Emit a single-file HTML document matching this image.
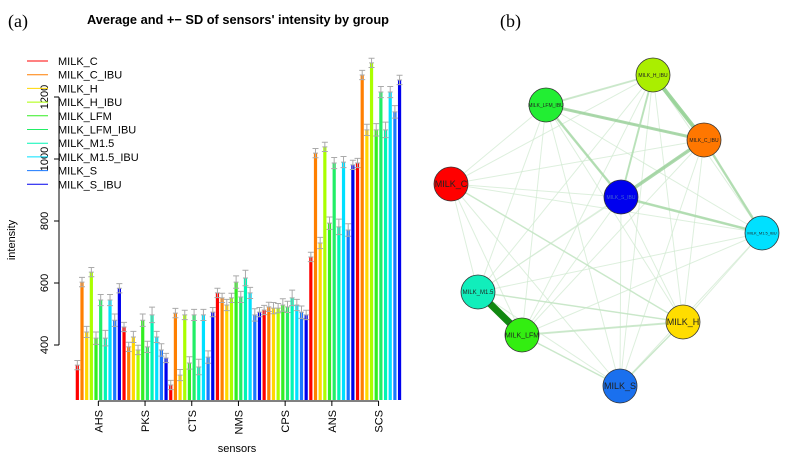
<!DOCTYPE html>
<html><head><meta charset="utf-8"><style>
body{margin:0;background:#fff;width:787px;height:458px;overflow:hidden;font-family:"Liberation Sans",sans-serif}
</style></head><body>
<svg id="chart" width="787" height="458" xmlns="http://www.w3.org/2000/svg">
<text x="8" y="27" font-family="Liberation Serif" font-size="18">(a)</text>
<text x="500" y="27" font-family="Liberation Serif" font-size="18">(b)</text>
<text x="238" y="24" text-anchor="middle" font-size="12.8" font-weight="bold">Average and +− SD of sensors' intensity by group</text>
<text transform="translate(15,240) rotate(-90)" text-anchor="middle" font-size="11">intensity</text>
<text x="237" y="452" text-anchor="middle" font-size="11">sensors</text>
<g id="bars"></g><g id="axes"></g><g id="legend"></g>
<g id="edges"></g><g id="nodes"></g>
</svg>
<script>
const groups=["MILK_C","MILK_C_IBU","MILK_H","MILK_H_IBU","MILK_LFM","MILK_LFM_IBU","MILK_M1.5","MILK_M1.5_IBU","MILK_S","MILK_S_IBU"];
const colors=["#ff0000","#ff7f00","#ffd700","#aaff00","#33ee22","#22ee66","#00f5b5","#00e0ff","#1a78ff","#0000ee"];
const sensors=["AHS","PKS","CTS","NMS","CPS","ANS","SCS"];
const yTicks=[400,600,800,1000,1200];
const AHS=[335,603,442,635,422,545,422,545,480,583];
const PKS=[458,394,426,384,480,394,497,426,384,358];
const CTS=[271,503,303,497,342,497,329,497,361,506];
const NMS=[568,552,529,552,603,555,616,568,497,506];
const CPS=[513,523,519,519,529,523,552,529,506,497];
const ANS=[684,1019,729,1039,793,987,781,990,771,981];
const SCS=[987,1271,1094,1310,1094,1216,1094,1216,1152,1255];
const SD=[15,15,18,15,20,18,25,18,20,15];
const values=[AHS,PKS,CTS,NMS,CPS,ANS,SCS];
const NS="http://www.w3.org/2000/svg";
function mk(tag,at,parent){const e=document.createElementNS(NS,tag);for(const k in at)e.setAttribute(k,at[k]);document.getElementById(parent).appendChild(e);return e;}
const y=v=>345-(v-400)*0.31;
const yBase=400, x0=75, pitch=4.67;
const x=(g,i)=>x0+(g*10+i)*pitch+pitch/2;
values.forEach((arr,g)=>arr.forEach((v,i)=>{
  const cx=x(g,i);
  let b=mk('rect',{x:cx-1.6,y:y(v),width:3.2,height:yBase-y(v),fill:colors[i]},'bars');
  
  
  const sd=SD[i];
  let e=mk('path',{d:`M${cx} ${y(v+sd)}V${y(v-sd)}M${cx-3} ${y(v+sd)}H${cx+3}M${cx-3} ${y(v-sd)}H${cx+3}M${cx-2.5} ${y(v)}H${cx+2.5}`,stroke:'#aaa','stroke-width':1,fill:'none'},'bars');
  
  
}));
let ya=mk('line',{x1:59,x2:59,y1:y(400),y2:y(1200),stroke:'#000'},'axes');


yTicks.forEach(t=>{
  mk('line',{x1:54,x2:59,y1:y(t),y2:y(t),stroke:'#000'},'axes');
  let l=mk('text',{transform:`translate(48,${y(t)}) rotate(-90)`,'text-anchor':'middle','font-size':11},'axes');
  l.textContent=t;
  
  
});
let xa=mk('line',{x1:x(0,4.5),x2:x(6,4.5),y1:401,y2:401,stroke:'#000'},'axes');


sensors.forEach((s,g)=>{
  const cx=x(g,4.5);
  mk('line',{x1:cx,x2:cx,y1:401,y2:406,stroke:'#000'},'axes');
  let l=mk('text',{transform:`translate(${cx+4},410) rotate(-90)`,'text-anchor':'end','font-size':11},'axes');
  l.textContent=s;
  
  
});
groups.forEach((gname,i)=>{
  const ly=61+i*13.7;
  mk('line',{x1:27,x2:48,y1:ly,y2:ly,stroke:colors[i],'stroke-width':1},'legend');
  let t=mk('text',{x:58,y:ly+4,'font-size':11},'legend');
  t.textContent=gname;
  
  
});
const nodeNames=["MILK_H_IBU","MILK_LFM_IBU","MILK_C_IBU","MILK_C","MILK_S_IBU","MILK_M1.5_IBU","MILK_M1.5","MILK_H","MILK_LFM","MILK_S"];
const nodeColors=["#aaee00","#22ee33","#ff7700","#ff0000","#0000ee","#00e0ff","#11eebb","#ffdd00","#33ee11","#1a70ee"];
const nodeX=[653,546,704,451,621,762,478,683,522,620];
const nodeY=[75,105,140,184,197,233,292,322,335,386];
const fontSizes=[5,5,5,9,5,4,6,9,7,9];
const strongEdges=[[6,8,7,"#118811",1],[0,2,4,"#88cc88",.8],[1,2,3,"#99d099",.8],[2,4,3.5,"#99d099",.8],[4,5,2.5,"#a5d8a5",.8],[2,5,2.5,"#a5d8a5",.8],[1,4,2.5,"#a5d8a5",.8],[0,4,2,"#b0deb0",.8],[1,0,2,"#c5e6c5",.8],[3,7,1.5,"#c5e6c5",.8],[8,7,2,"#c5e6c5",.8],[6,7,1.5,"#c5e6c5",.8],[9,7,1.5,"#c5e6c5",.8],[8,9,1.5,"#c5e6c5",.8]];
for(let a=0;a<10;a++)for(let b=a+1;b<10;b++){
  let l=mk('line',{x1:nodeX[a],y1:nodeY[a],x2:nodeX[b],y2:nodeY[b],stroke:'#cfe9cf','stroke-width':1,opacity:.7},'edges');
  
  
}
strongEdges.forEach(([a,b,w,c,o])=>{
  let l=mk('line',{x1:nodeX[a],y1:nodeY[a],x2:nodeX[b],y2:nodeY[b],stroke:c,'stroke-width':w,opacity:o},'edges');
  
  
});
nodeNames.forEach((n,i)=>{
  let c=mk('circle',{cx:nodeX[i],cy:nodeY[i],r:17,fill:nodeColors[i],stroke:'#333','stroke-width':.8},'nodes');
  
  
  let t=mk('text',{x:nodeX[i],y:nodeY[i]+fontSizes[i]*0.35,'text-anchor':'middle','font-size':fontSizes[i],fill:i===4?'#4466cc':'#222'},'nodes');
  t.textContent=n;
  
  
});
</script>
</body></html>
